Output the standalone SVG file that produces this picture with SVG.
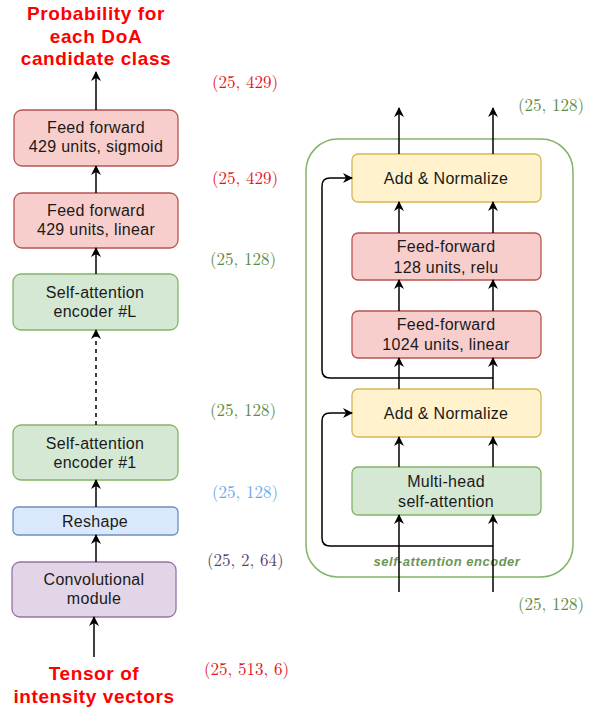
<svg xmlns="http://www.w3.org/2000/svg" width="608" height="710" viewBox="0 0 608 710">
<defs>
<marker id="ah" viewBox="0 0 10 10" refX="9" refY="5" markerWidth="10" markerHeight="10" markerUnits="userSpaceOnUse" orient="auto">
<path d="M0,0 L10,5 L0,10 L3,5 z" fill="#000"/>
</marker>
<style>
.box{stroke-width:1.3}
.pink{fill:#f8cecc;stroke:#b85450}
.green{fill:#d5e8d4;stroke:#82b366}
.blue{fill:#dae8fc;stroke:#6c8ebf}
.purple{fill:#e1d5e7;stroke:#9673a6}
.yellow{fill:#fff2cc;stroke:#d6b656}
.t{font-family:"Liberation Sans",Arial,sans-serif;font-size:16px;fill:#1a1a1a;text-anchor:middle;letter-spacing:0.3px}
.big{font-family:"Liberation Sans",Arial,sans-serif;font-size:19px;font-weight:bold;fill:#ff0000;text-anchor:middle;letter-spacing:0.6px}
.m{font-family:"Latin Modern Roman","Liberation Serif",serif;font-size:17px}
.c{fill:none;stroke:#000;stroke-width:1.5}
.a{marker-end:url(#ah)}
</style>
</defs>

<!-- left column titles -->
<g id="title-top">
<text class="big" x="96" y="20">Probability for</text>
<text class="big" x="96" y="43">each DoA</text>
<text class="big" x="96" y="65">candidate class</text>
</g>
<g id="title-bottom">
<text class="big" x="94" y="680">Tensor of</text>
<text class="big" x="94" y="703">intensity vectors</text>
</g>

<!-- left nodes -->
<g id="ff-sigmoid">
<rect class="box pink" x="14" y="110" width="164" height="56" rx="8"/>
<text class="t" x="96" y="133">Feed forward</text>
<text class="t" x="96" y="152">429 units, sigmoid</text>
</g>
<g id="ff-linear">
<rect class="box pink" x="14" y="193" width="164" height="55" rx="8"/>
<text class="t" x="96" y="216">Feed forward</text>
<text class="t" x="96" y="235">429 units, linear</text>
</g>
<g id="enc-L">
<rect class="box green" x="13" y="274" width="165" height="56" rx="8"/>
<text class="t" x="95" y="298">Self-attention</text>
<text class="t" x="95" y="317">encoder #L</text>
</g>
<g id="enc-1">
<rect class="box green" x="13" y="425" width="165" height="55" rx="8"/>
<text class="t" x="95" y="449">Self-attention</text>
<text class="t" x="95" y="468">encoder #1</text>
</g>
<g id="reshape">
<rect class="box blue" x="13" y="507" width="165" height="28" rx="5"/>
<text class="t" x="95" y="527">Reshape</text>
</g>
<g id="conv">
<rect class="box purple" x="12" y="562" width="164" height="55" rx="8"/>
<text class="t" x="94" y="585">Convolutional</text>
<text class="t" x="94" y="604">module</text>
</g>

<!-- shape labels -->
<g id="labels" class="m">
<text x="212" y="88" fill="#e3131b">(25, 429)</text>
<text x="212" y="184" fill="#e3131b">(25, 429)</text>
<text x="210" y="265" fill="#5b8a42">(25, 128)</text>
<text x="210" y="416" fill="#5b8a42">(25, 128)</text>
<text x="212" y="498" fill="#6aaae8">(25, 128)</text>
<text x="207" y="566" fill="#56456b">(25, 2, 64)</text>
<text x="204" y="675" fill="#e3131b">(25, 513, 6)</text>
<text x="518" y="111" fill="#5b8a42">(25, 128)</text>
<text x="518" y="610" fill="#5b8a42">(25, 128)</text>
</g>

<!-- encoder container -->
<g id="encoder">
<rect x="306" y="139" width="267" height="438" rx="32" fill="none" stroke="#82b366" stroke-width="1.5"/>
<text x="447" y="566" font-family="'Liberation Sans',Arial,sans-serif" font-size="13" font-weight="bold" font-style="italic" fill="#6d9656" text-anchor="middle" letter-spacing="0.5">self-attention encoder</text>
</g>
<g id="addnorm-2">
<rect class="box yellow" x="352" y="154" width="189" height="48" rx="6"/>
<text class="t" x="446" y="184">Add &amp; Normalize</text>
</g>
<g id="ff-128">
<rect class="box pink" x="352" y="233" width="189" height="47" rx="6"/>
<text class="t" x="446" y="252">Feed-forward</text>
<text class="t" x="446" y="273">128 units, relu</text>
</g>
<g id="ff-1024">
<rect class="box pink" x="352" y="311" width="189" height="47" rx="6"/>
<text class="t" x="446" y="330">Feed-forward</text>
<text class="t" x="446" y="350">1024 units, linear</text>
</g>
<g id="addnorm-1">
<rect class="box yellow" x="352" y="389" width="189" height="48" rx="6"/>
<text class="t" x="446" y="419">Add &amp; Normalize</text>
</g>
<g id="mhsa">
<rect class="box green" x="352" y="467" width="189" height="48" rx="6"/>
<text class="t" x="446" y="487">Multi-head</text>
<text class="t" x="446" y="507">self-attention</text>
</g>

<!-- connectors -->
<g id="connectors">
<line class="c a" x1="96" y1="110" x2="96" y2="72"/>
<line class="c a" x1="96" y1="193" x2="96" y2="166"/>
<line class="c a" x1="96" y1="274" x2="96" y2="248"/>
<line class="c a" x1="96" y1="425" x2="96" y2="330" stroke-dasharray="4,4"/>
<line class="c a" x1="96" y1="507" x2="96" y2="480"/>
<line class="c a" x1="96" y1="562" x2="96" y2="535"/>
<line class="c a" x1="94" y1="657" x2="94" y2="617"/>

<line class="c a" x1="399" y1="154" x2="399" y2="108"/>
<line class="c a" x1="493" y1="154" x2="493" y2="108"/>
<line class="c a" x1="399" y1="233" x2="399" y2="202"/>
<line class="c a" x1="493" y1="233" x2="493" y2="202"/>
<line class="c a" x1="399" y1="311" x2="399" y2="280"/>
<line class="c a" x1="493" y1="311" x2="493" y2="280"/>
<line class="c a" x1="399" y1="389" x2="399" y2="358"/>
<line class="c a" x1="493" y1="389" x2="493" y2="358"/>
<line class="c a" x1="399" y1="467" x2="399" y2="437"/>
<line class="c a" x1="493" y1="467" x2="493" y2="437"/>
<line class="c a" x1="399" y1="592" x2="399" y2="515"/>
<line class="c a" x1="493" y1="592" x2="493" y2="515"/>
<path class="c a" d="M493,546 H330 Q322,546 322,538 V421 Q322,413 330,413 H352"/>
<path class="c a" d="M493,378 H330 Q322,378 322,370 V186 Q322,178 330,178 H352"/>
</g>
</svg>
